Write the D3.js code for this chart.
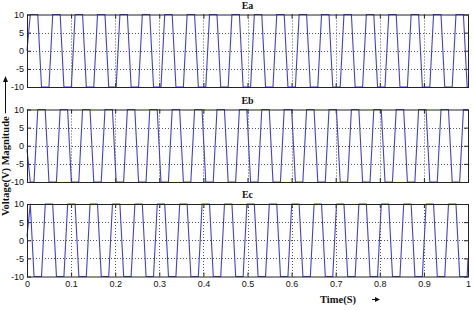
<!DOCTYPE html>
<html><head><meta charset="utf-8">
<script src="https://cdn.jsdelivr.net/npm/d3@7"></script>
<style>body{margin:0;background:#fff}svg{display:block}</style>
</head><body><svg id="c" width="474" height="310"></svg>
<script>
const panelNames = ["Ea", "Eb", "Ec"];
const xTicks = [0, 0.1, 0.2, 0.3, 0.4, 0.5, 0.6, 0.7, 0.8, 0.9, 1];
const xTickLabels = ["0", "0.1", "0.2", "0.3", "0.4", "0.5", "0.6", "0.7", "0.8", "0.9", "1"];
const yTicks = [-10, -5, 0, 5, 10];
const yTickLabels = ["-10", "-5", "0", "5", "10"];
const xLabel = "Time(S)";
const yLabel = "Voltage(V) Magnitude";

// [time (s), voltage (V)] vertices
const ea = [[0,0],
[0.0075,10],[0.0244,10],[0.0329,-10],[0.0498,-10],
[0.0583,10],[0.0752,10],[0.0837,-10],[0.1006,-10],
[0.1091,10],[0.1260,10],[0.1345,-10],[0.1514,-10],
[0.1599,10],[0.1768,10],[0.1853,-10],[0.2022,-10],
[0.2107,10],[0.2276,10],[0.2361,-10],[0.2530,-10],
[0.2615,10],[0.2784,10],[0.2869,-10],[0.3038,-10],
[0.3123,10],[0.3292,10],[0.3377,-10],[0.3546,-10],
[0.3631,10],[0.3800,10],[0.3885,-10],[0.4054,-10],
[0.4139,10],[0.4308,10],[0.4393,-10],[0.4562,-10],
[0.4647,10],[0.4816,10],[0.4901,-10],[0.5070,-10],
[0.5155,10],[0.5324,10],[0.5409,-10],[0.5578,-10],
[0.5663,10],[0.5832,10],[0.5917,-10],[0.6086,-10],
[0.6171,10],[0.6340,10],[0.6425,-10],[0.6594,-10],
[0.6679,10],[0.6848,10],[0.6933,-10],[0.7102,-10],
[0.7187,10],[0.7356,10],[0.7441,-10],[0.7610,-10],
[0.7695,10],[0.7864,10],[0.7949,-10],[0.8118,-10],
[0.8203,10],[0.8372,10],[0.8457,-10],[0.8626,-10],
[0.8711,10],[0.8880,10],[0.8965,-10],[0.9134,-10],
[0.9219,10],[0.9388,10],[0.9473,-10],[0.9642,-10],
[0.9727,10],[0.9896,10],[0.9981,-10],[1,-10]];

const eb = [[0,-1],[0.0075,-10],[0.0159,-10],
[0.0244,10],[0.0413,10],[0.0498,-10],[0.0667,-10],
[0.0752,10],[0.0921,10],[0.1006,-10],[0.1175,-10],
[0.1260,10],[0.1429,10],[0.1514,-10],[0.1683,-10],
[0.1768,10],[0.1937,10],[0.2022,-10],[0.2191,-10],
[0.2276,10],[0.2445,10],[0.2530,-10],[0.2699,-10],
[0.2784,10],[0.2953,10],[0.3038,-10],[0.3207,-10],
[0.3292,10],[0.3461,10],[0.3546,-10],[0.3715,-10],
[0.3800,10],[0.3969,10],[0.4054,-10],[0.4223,-10],
[0.4308,10],[0.4477,10],[0.4562,-10],[0.4731,-10],
[0.4816,10],[0.4985,10],[0.5070,-10],[0.5239,-10],
[0.5324,10],[0.5493,10],[0.5578,-10],[0.5747,-10],
[0.5832,10],[0.6001,10],[0.6086,-10],[0.6255,-10],
[0.6340,10],[0.6509,10],[0.6594,-10],[0.6763,-10],
[0.6848,10],[0.7017,10],[0.7102,-10],[0.7271,-10],
[0.7356,10],[0.7525,10],[0.7610,-10],[0.7779,-10],
[0.7864,10],[0.8033,10],[0.8118,-10],[0.8287,-10],
[0.8372,10],[0.8541,10],[0.8626,-10],[0.8795,-10],
[0.8880,10],[0.9049,10],[0.9134,-10],[0.9303,-10],
[0.9388,10],[0.9557,10],[0.9642,-10],[0.9811,-10],
[0.9896,10],[1,10]];

const ec = [[0,1],[0.0075,10],[0.0160,-10],[0.0329,-10],
[0.0414,10],[0.0583,10],[0.0668,-10],[0.0837,-10],
[0.0922,10],[0.1091,10],[0.1176,-10],[0.1345,-10],
[0.1430,10],[0.1599,10],[0.1684,-10],[0.1853,-10],
[0.1938,10],[0.2107,10],[0.2192,-10],[0.2361,-10],
[0.2446,10],[0.2615,10],[0.2700,-10],[0.2869,-10],
[0.2954,10],[0.3123,10],[0.3208,-10],[0.3377,-10],
[0.3462,10],[0.3631,10],[0.3716,-10],[0.3885,-10],
[0.3970,10],[0.4139,10],[0.4224,-10],[0.4393,-10],
[0.4478,10],[0.4647,10],[0.4732,-10],[0.4901,-10],
[0.4986,10],[0.5155,10],[0.5240,-10],[0.5409,-10],
[0.5494,10],[0.5663,10],[0.5748,-10],[0.5917,-10],
[0.6002,10],[0.6171,10],[0.6256,-10],[0.6425,-10],
[0.6510,10],[0.6679,10],[0.6764,-10],[0.6933,-10],
[0.7018,10],[0.7187,10],[0.7272,-10],[0.7441,-10],
[0.7526,10],[0.7695,10],[0.7780,-10],[0.7949,-10],
[0.8034,10],[0.8203,10],[0.8288,-10],[0.8457,-10],
[0.8542,10],[0.8711,10],[0.8796,-10],[0.8965,-10],
[0.9050,10],[0.9219,10],[0.9304,-10],[0.9473,-10],
[0.9558,10],[0.9727,10],[0.9812,-10],[0.9981,-10],
[1,-5]];

const seriesList = [ea, eb, ec];

// ---- layout ----
const svg = d3.select("#c");
const X0 = 27, X1 = 468;
const panelTop = [14.5, 109.5, 204];
const panelH = 72.5;
const lineColor = "#4040d2";
const serif = "'Liberation Serif','Times New Roman',serif";
const sans = "'Liberation Sans',Arial,sans-serif";

const x = d3.scaleLinear().domain([0, 1]).range([X0, X1]);

panelNames.forEach((name, i) => {
  const top = panelTop[i], bot = top + panelH;
  const y = d3.scaleLinear().domain([-10, 10]).range([bot, top]);
  const g = svg.append("g");

  // grid
  g.append("g").selectAll("line").data(xTicks.slice(1, -1)).join("line")
    .attr("x1", d => Math.round(x(d)) + 0.5).attr("x2", d => Math.round(x(d)) + 0.5)
    .attr("y1", top).attr("y2", bot)
    .attr("stroke", "#555").attr("stroke-width", 1).attr("stroke-dasharray", "1,2");
  g.append("g").selectAll("line").data(yTicks.slice(1, -1)).join("line")
    .attr("y1", d => Math.round(y(d)) + 0.5).attr("y2", d => Math.round(y(d)) + 0.5)
    .attr("x1", X0).attr("x2", X1)
    .attr("stroke", "#555").attr("stroke-width", 1).attr("stroke-dasharray", "1,2");

  // axes (inward ticks on all sides)
  const ax = (axis, tx, ty) => {
    const a = g.append("g").attr("transform", `translate(${tx},${ty})`).call(axis);
    a.select(".domain").remove();
    a.selectAll("line").attr("stroke", "#222");
    a.selectAll("text").attr("fill", "#111").style("font-family", sans).style("font-size", "9px");
    return a;
  };
  ax(d3.axisLeft(y).tickValues(yTicks).tickFormat((d, j) => yTickLabels[j])
      .tickSizeInner(-4).tickSizeOuter(0).tickPadding(3), X0, 0);
  ax(d3.axisRight(y).tickValues(yTicks).tickFormat("")
      .tickSizeInner(-4).tickSizeOuter(0), X1, 0);
  ax(d3.axisTop(x).tickValues(xTicks).tickFormat("")
      .tickSizeInner(-4).tickSizeOuter(0), 0, top);
  ax(d3.axisBottom(x).tickValues(xTicks)
      .tickFormat((d, j) => i === 2 ? xTickLabels[j] : "")
      .tickSizeInner(-4).tickSizeOuter(0).tickPadding(4), 0, bot);

  // waveform
  g.append("path").datum(seriesList[i])
    .attr("d", d3.line().x(d => x(d[0])).y(d => y(d[1])))
    .attr("fill", "none").attr("stroke", lineColor).attr("stroke-width", 1.1)
    .attr("stroke-linejoin", "round");

  // frame
  g.append("rect").attr("x", X0 + 0.5).attr("y", top + 0.5)
    .attr("width", X1 - X0).attr("height", panelH)
    .attr("fill", "none").attr("stroke", "#222").attr("stroke-width", 1);

  // title
  g.append("text").attr("x", (X0 + X1) / 2).attr("y", top - 6)
    .attr("text-anchor", "middle")
    .style("font-family", serif).style("font-weight", "bold").style("font-size", "10px")
    .attr("fill", "#111").text(name);
});

// x label with arrow
svg.append("text").attr("x", 320).attr("y", 303)
  .style("font-family", serif).style("font-weight", "bold").style("font-size", "10.5px")
  .attr("fill", "#111").text(xLabel);
svg.append("line").attr("x1", 372).attr("x2", 376).attr("y1", 299.5).attr("y2", 299.5)
  .attr("stroke", "#111").attr("stroke-width", 1);
svg.append("path").attr("d", "M375,297 L380,299.5 L375,302 Z").attr("fill", "#111");

// y label with arrow
const yl = svg.append("text").attr("transform", "translate(9,216) rotate(-90)")
  .style("font-family", serif).style("font-weight", "bold").style("font-size", "10.5px")
  .attr("fill", "#111").text(yLabel);
const len = yl.node().getComputedTextLength();
svg.append("line").attr("x1", 5.5).attr("x2", 5.5).attr("y1", 216 - len - 3).attr("y2", 81)
  .attr("stroke", "#111").attr("stroke-width", 1);
svg.append("path").attr("d", "M3,82 L5.5,76 L8,82 Z").attr("fill", "#111");
</script>
</body></html>
